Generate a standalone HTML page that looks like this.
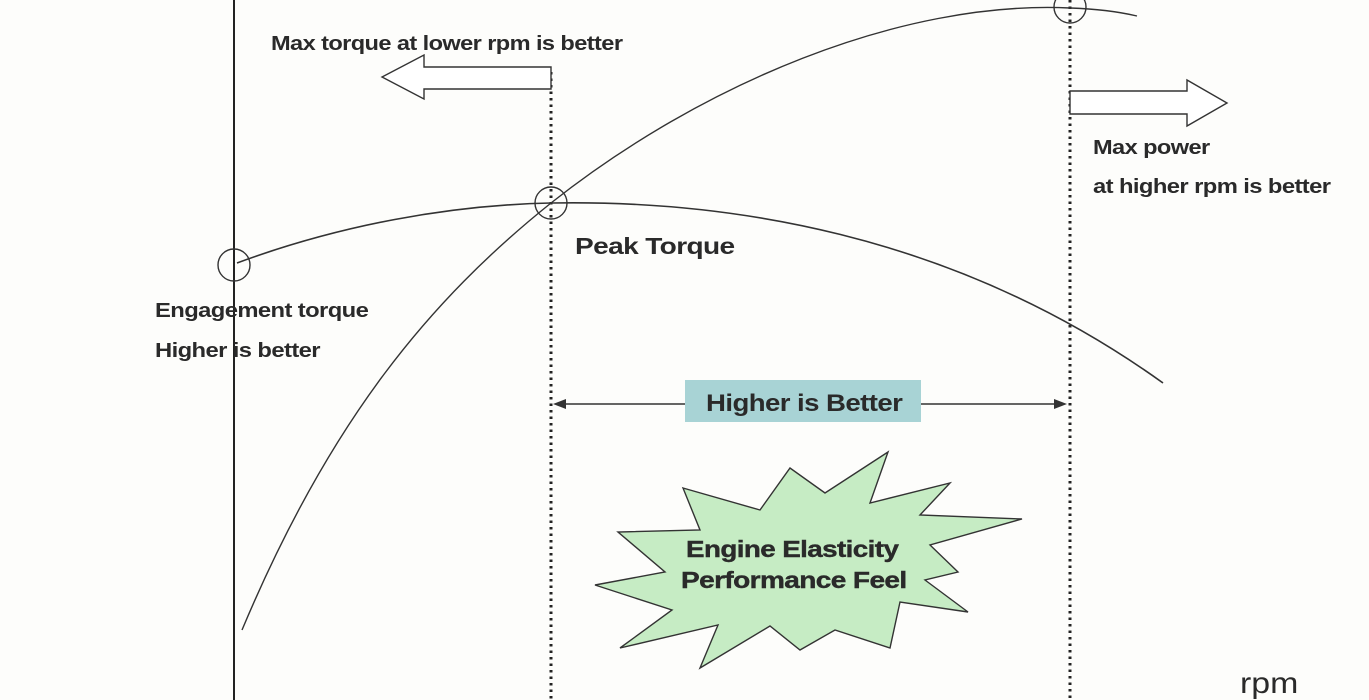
<!DOCTYPE html>
<html><head><meta charset="utf-8"><style>
html,body{margin:0;padding:0;background:#fdfdfb;}
svg{display:block}
text{font-family:"Liberation Sans",Arial,sans-serif;font-weight:bold;fill:#2a2a2a;}
</style></head><body>
<svg width="1369" height="700" viewBox="0 0 1369 700" xmlns="http://www.w3.org/2000/svg">
<rect width="1369" height="700" fill="#fdfdfb"/>
<line x1="234" y1="0" x2="234" y2="700" stroke="#222" stroke-width="2"/>
<line x1="551" y1="72" x2="551" y2="700" stroke="#222" stroke-width="3" stroke-dasharray="2.5,4"/>
<line x1="1070" y1="0" x2="1070" y2="700" stroke="#222" stroke-width="3" stroke-dasharray="2.5,4"/>
<path d="M237,263 C340,225 450,205 551,203 C720,200 950,230 1163,383" fill="none" stroke="#333" stroke-width="1.6"/>
<path d="M242,630 C330,420 430,300 551,203 C700,85 900,0 1070,8 C1100,9 1120,12 1137,16" fill="none" stroke="#333" stroke-width="1.4"/>
<circle cx="234" cy="265" r="16" fill="none" stroke="#333" stroke-width="1.4"/>
<circle cx="551" cy="203" r="16" fill="none" stroke="#333" stroke-width="1.4"/>
<circle cx="1070" cy="7" r="16" fill="none" stroke="#333" stroke-width="1.4"/>
<polygon points="551,67 424,67 424,55 382,77 424,99 424,89 551,89" fill="#fff" stroke="#333" stroke-width="1.4"/>
<polygon points="1070,91 1187,91 1187,80 1227,103 1187,126 1187,114 1070,114" fill="#fff" stroke="#333" stroke-width="1.4"/>
<line x1="556" y1="404" x2="1064" y2="404" stroke="#333" stroke-width="1.4"/>
<polygon points="553,404 566,399 566,409" fill="#333"/>
<polygon points="1067,404 1054,399 1054,409" fill="#333"/>
<rect x="685" y="380" width="236" height="42" fill="#a8d3d5"/>
<text transform="translate(706,411) scale(1.15,1)" font-size="24" letter-spacing="-0.5">Higher is Better</text>
<polygon points="683,488 760,510 790,468 825,493 888,452 870,503 950,483 920,515 1022,519 930,545 958,572 925,580 968,612 900,602 890,648 835,630 800,650 770,626 700,668 718,625 620,648 672,610 595,585 665,572 618,532 700,530" fill="#c6ecc4" stroke="#333" stroke-width="1.4"/>
<text transform="translate(686,557) scale(1.21,1)" font-size="23" letter-spacing="-0.5" stroke="#2a2a2a" stroke-width="0.4">Engine Elasticity</text>
<text transform="translate(681,588) scale(1.22,1)" font-size="23" letter-spacing="-0.5" stroke="#2a2a2a" stroke-width="0.4">Performance Feel</text>
<text transform="translate(271,50) scale(1.18,1)" font-size="20" letter-spacing="-0.5">Max torque at lower rpm is better</text>
<text transform="translate(1093,154) scale(1.18,1)" font-size="20" letter-spacing="-0.5">Max power</text>
<text transform="translate(1093,193) scale(1.19,1)" font-size="20" letter-spacing="-0.5">at higher rpm is better</text>
<text transform="translate(575,254) scale(1.22,1)" font-size="23" letter-spacing="-0.5">Peak Torque</text>
<text transform="translate(155,317) scale(1.19,1)" font-size="20" letter-spacing="-0.5">Engagement torque</text>
<text transform="translate(155,357) scale(1.19,1)" font-size="20" letter-spacing="-0.5">Higher is better</text>
<text transform="translate(1240,693) scale(1.13,1)" font-size="30" style="font-weight:normal">rpm</text>
</svg>
</body></html>
